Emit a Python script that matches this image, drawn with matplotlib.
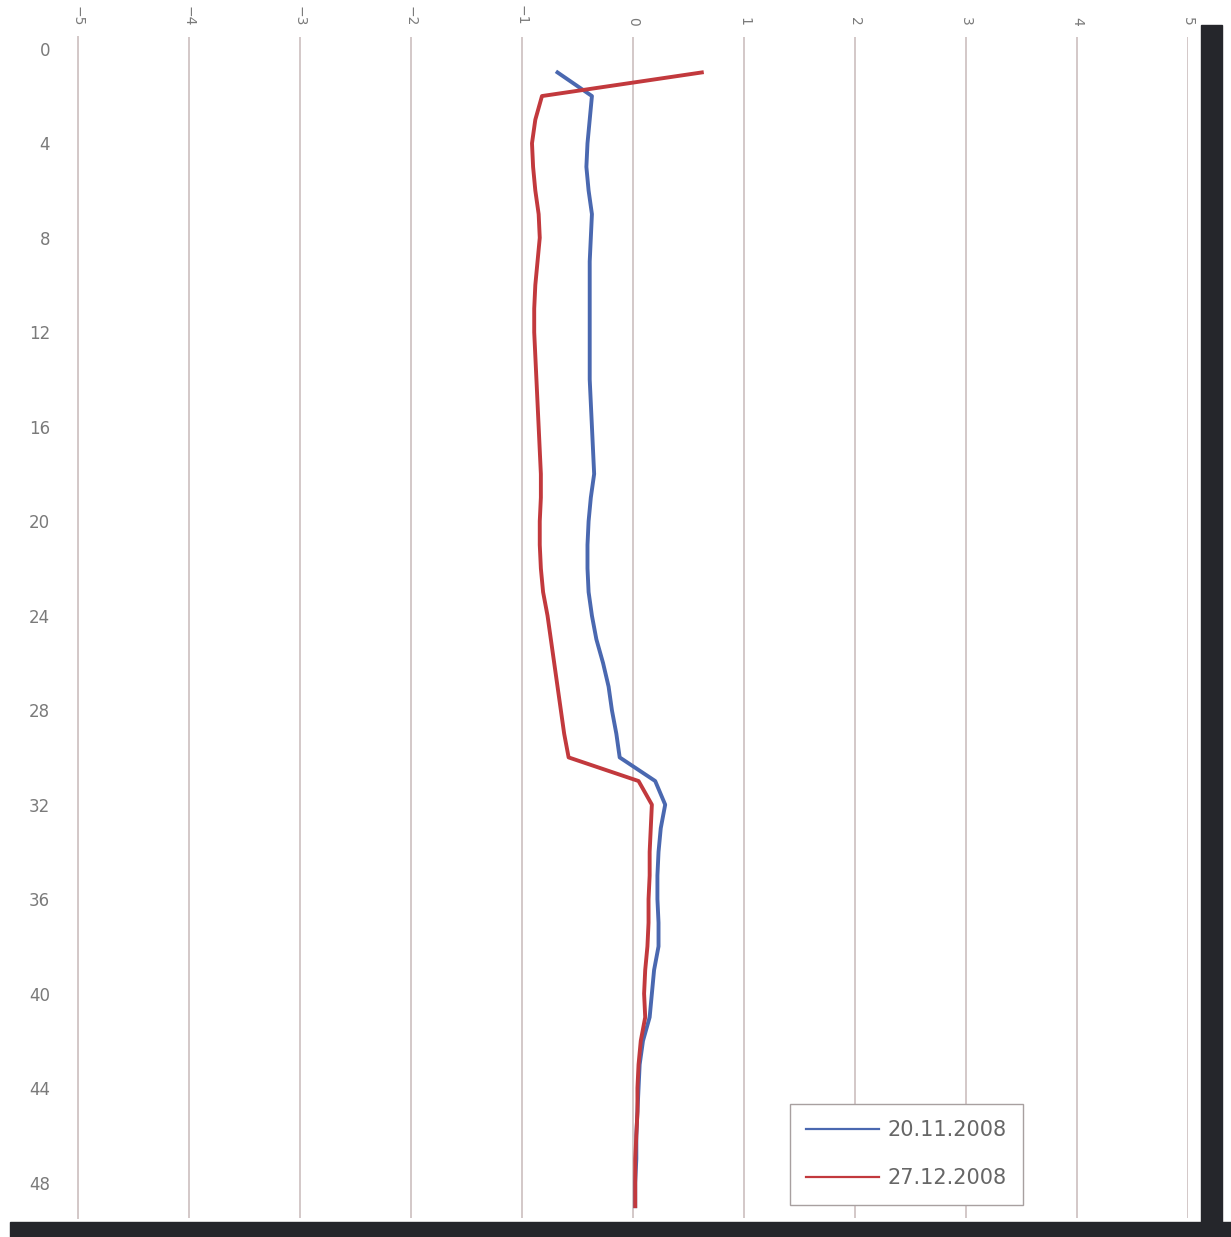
import numpy as np
import matplotlib.pyplot as plt
from matplotlib.lines import Line2D
from matplotlib.patches import Rectangle

# depth below surface (m)
depth = list(range(1, 50))

series_1 = [  # 20.11.2008
    -0.68, -0.37, -0.39, -0.41, -0.42, -0.40, -0.37, -0.38, -0.39, -0.39,
    -0.39, -0.39, -0.39, -0.39, -0.38, -0.37, -0.36, -0.35, -0.38, -0.40,
    -0.41, -0.41, -0.40, -0.37, -0.33, -0.27, -0.22, -0.19, -0.15, -0.12,
    0.20, 0.29, 0.25, 0.23, 0.22, 0.22, 0.23, 0.23, 0.19, 0.17,
    0.15, 0.09, 0.06, 0.05, 0.04, 0.03, 0.03, 0.02, 0.02,
]
series_2 = [  # 27.12.2008
    0.62, -0.82, -0.88, -0.91, -0.90, -0.88, -0.85, -0.84, -0.86, -0.88,
    -0.89, -0.89, -0.88, -0.87, -0.86, -0.85, -0.84, -0.83, -0.83, -0.84,
    -0.84, -0.83, -0.81, -0.77, -0.74, -0.71, -0.68, -0.65, -0.62, -0.58,
    0.05, 0.17, 0.16, 0.15, 0.15, 0.14, 0.14, 0.13, 0.11, 0.10,
    0.11, 0.07, 0.05, 0.04, 0.04, 0.03, 0.02, 0.02, 0.02,
]
labels = ["20.11.2008", "27.12.2008"]
x_ticks = list(range(-5, 6))
y_ticks = list(range(0, 49, 4))

BLUE = "#4a68b0"
RED = "#c2393d"
GRID = "#d3c8c8"
TXT = "#7a7a7a"

W, H = 1231, 1237
fig = plt.figure(figsize=(W / 100, H / 100), dpi=100)
ax = fig.add_axes([78 / W, 1 - 1218 / H, 1110 / W, 1181 / H])

ax.plot(series_1, depth, color=BLUE, lw=2.8, solid_joinstyle="round")
ax.plot(series_2, depth, color=RED, lw=2.8, solid_joinstyle="round")

ax.set_xlim(-5, 5)
ax.set_ylim(49.5, -0.5)
ax.set_xticks(x_ticks)
ax.set_yticks(y_ticks)
ax.xaxis.tick_top()
ax.tick_params(axis="x", length=0, pad=8, labelsize=10, labelcolor=TXT,
               labelrotation=-90)
ax.tick_params(axis="y", length=0, pad=20, labelsize=12, labelcolor=TXT)
ax.grid(axis="x", color=GRID, lw=1.4)
for side in ["top", "right", "bottom"]:
    ax.spines[side].set_visible(False)
ax.spines["left"].set_color(GRID)
ax.spines["left"].set_linewidth(1.4)

handles = [Line2D([], [], color=BLUE, lw=1.6), Line2D([], [], color=RED, lw=1.6)]
leg = ax.legend(handles, labels, loc="lower left",
                bbox_to_anchor=(0.641, 0.011), fontsize=15, handlelength=3.5,
                labelspacing=1.35, borderpad=0.8, handletextpad=0.4,
                fancybox=False, framealpha=1, edgecolor="#a8a0a0",
                borderaxespad=0)
leg.get_frame().set_linewidth(1.0)
for t in leg.get_texts():
    t.set_color("#666666")

# dark frame edges from the scanned page
fig.add_artist(Rectangle((10 / W, 0), 1 - 10 / W, 15 / H,
                         transform=fig.transFigure, color="#25262b", zorder=5))
fig.add_artist(Rectangle((1201 / W, 15 / H), 21 / W, (1222 - 25) / H,
                         transform=fig.transFigure, color="#25262b", zorder=5))

fig.savefig("out.png", dpi=100)
